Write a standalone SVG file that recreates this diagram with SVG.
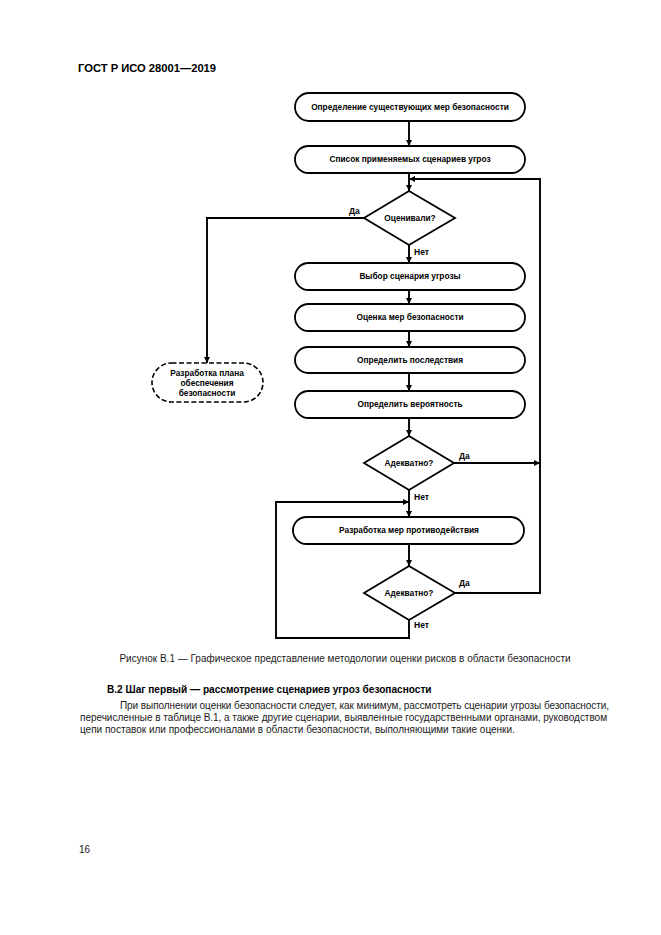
<svg xmlns="http://www.w3.org/2000/svg" width="661" height="935" viewBox="0 0 661 935">
<style>
.box{fill:#fff;stroke:#000;stroke-width:1.8}
.dash{fill:#fff;stroke:#000;stroke-width:1.6;stroke-dasharray:5,2.5}
.t{font-family:"Liberation Sans",Arial,sans-serif;font-size:8.3px;font-weight:bold;fill:#000;text-anchor:middle}
.lb{font-family:"Liberation Sans",Arial,sans-serif;font-size:8.5px;font-weight:bold;fill:#000}
.ln{fill:none;stroke:#000;stroke-width:1.9}
.body{font-family:"Liberation Sans",Arial,sans-serif;font-size:10px;fill:#1a1a1a}
.hd{font-family:"Liberation Sans",Arial,sans-serif;font-weight:bold;fill:#000}
</style>
<defs>
<marker id="ar" markerUnits="userSpaceOnUse" markerWidth="7" markerHeight="6" refX="6" refY="3" orient="auto">
<path d="M0,0 L6,3 L0,6 z" fill="#000"/>
</marker>
</defs>
<rect width="661" height="935" fill="#fff"/>
<text class="hd" x="78" y="72" font-size="11.2">ГОСТ Р ИСО 28001—2019</text>

<g id="connectors">
<path class="ln" d="M409,121 V146" marker-end="url(#ar)"/>
<path class="ln" d="M409,173 V191" marker-end="url(#ar)"/>
<path class="ln" d="M364,218 H207 V363" marker-end="url(#ar)"/>
<path class="ln" d="M409,245 V263" marker-end="url(#ar)"/>
<path class="ln" d="M409,290 V304" marker-end="url(#ar)"/>
<path class="ln" d="M409,331 V347" marker-end="url(#ar)"/>
<path class="ln" d="M409,373 V391" marker-end="url(#ar)"/>
<path class="ln" d="M409,418 V436" marker-end="url(#ar)"/>
<path class="ln" d="M454,463 H540" marker-end="url(#ar)"/>
<path class="ln" d="M409,490 V517" marker-end="url(#ar)"/>
<path class="ln" d="M409,544 V566" marker-end="url(#ar)"/>
<path class="ln" d="M455,593 H540 V179 H409" marker-end="url(#ar)"/>
<path class="ln" d="M409,620 V638 H276 V502 H409" marker-end="url(#ar)"/>
<text class="lb" x="349" y="214">Да</text>
<text class="lb" x="414" y="255">Нет</text>
<text class="lb" x="459" y="459">Да</text>
<text class="lb" x="414" y="500">Нет</text>
<text class="lb" x="459" y="586">Да</text>
<text class="lb" x="414" y="628">Нет</text>
</g>

<g id="n1"><rect class="box" x="295" y="93" width="230" height="28" rx="14"/><text class="t" x="410" y="110">Определение существующих мер безопасности</text></g>
<g id="n2"><rect class="box" x="295" y="146" width="230" height="27" rx="13.5"/><text class="t" x="410" y="162">Список применяемых сценариев угроз</text></g>
<g id="d1"><polygon class="box" points="409,191 455,218 409,245 364,218"/><text class="t" x="410" y="221">Оценивали?</text></g>
<g id="n3"><rect class="dash" x="152" y="363" width="111" height="39" rx="19.5"/><text class="t" x="207" y="376">Разработка плана</text><text class="t" x="207" y="386">обеспечения</text><text class="t" x="207" y="396">безопасности</text></g>
<g id="n4"><rect class="box" x="295" y="263" width="230" height="27" rx="13.5"/><text class="t" x="410" y="279">Выбор сценария угрозы</text></g>
<g id="n5"><rect class="box" x="295" y="304" width="230" height="27" rx="13.5"/><text class="t" x="410" y="320">Оценка мер безопасности</text></g>
<g id="n6"><rect class="box" x="295" y="347" width="230" height="26" rx="13"/><text class="t" x="410" y="363">Определить последствия</text></g>
<g id="n7"><rect class="box" x="295" y="391" width="230" height="27" rx="13.5"/><text class="t" x="410" y="407">Определить вероятность</text></g>
<g id="d2"><polygon class="box" points="409,436 454,463 409,490 364,463"/><text class="t" x="409" y="466">Адекватно?</text></g>
<g id="n8"><rect class="box" x="293" y="517" width="231" height="27" rx="13.5"/><text class="t" x="409" y="533">Разработка мер противодействия</text></g>
<g id="d3"><polygon class="box" points="409,566 455,593 409,620 364,593"/><text class="t" x="409" y="596">Адекватно?</text></g>

<text class="body" x="345" y="662" text-anchor="middle">Рисунок В.1 — Графическое представление методологии оценки рисков в области безопасности</text>
<text class="hd" x="107" y="693" font-size="10.1">В.2 Шаг первый — рассмотрение сценариев угроз безопасности</text>
<text class="body" x="120" y="709" textLength="489" lengthAdjust="spacing">При выполнении оценки безопасности следует, как минимум, рассмотреть сценарии угрозы безопасности,</text>
<text class="body" x="80" y="721" textLength="527" lengthAdjust="spacing">перечисленные в таблице В.1, а также другие сценарии, выявленные государственными органами, руководством</text>
<text class="body" x="80" y="733">цепи поставок или профессионалами в области безопасности, выполняющими такие оценки.</text>
<text class="body" x="79" y="853">16</text>
</svg>
